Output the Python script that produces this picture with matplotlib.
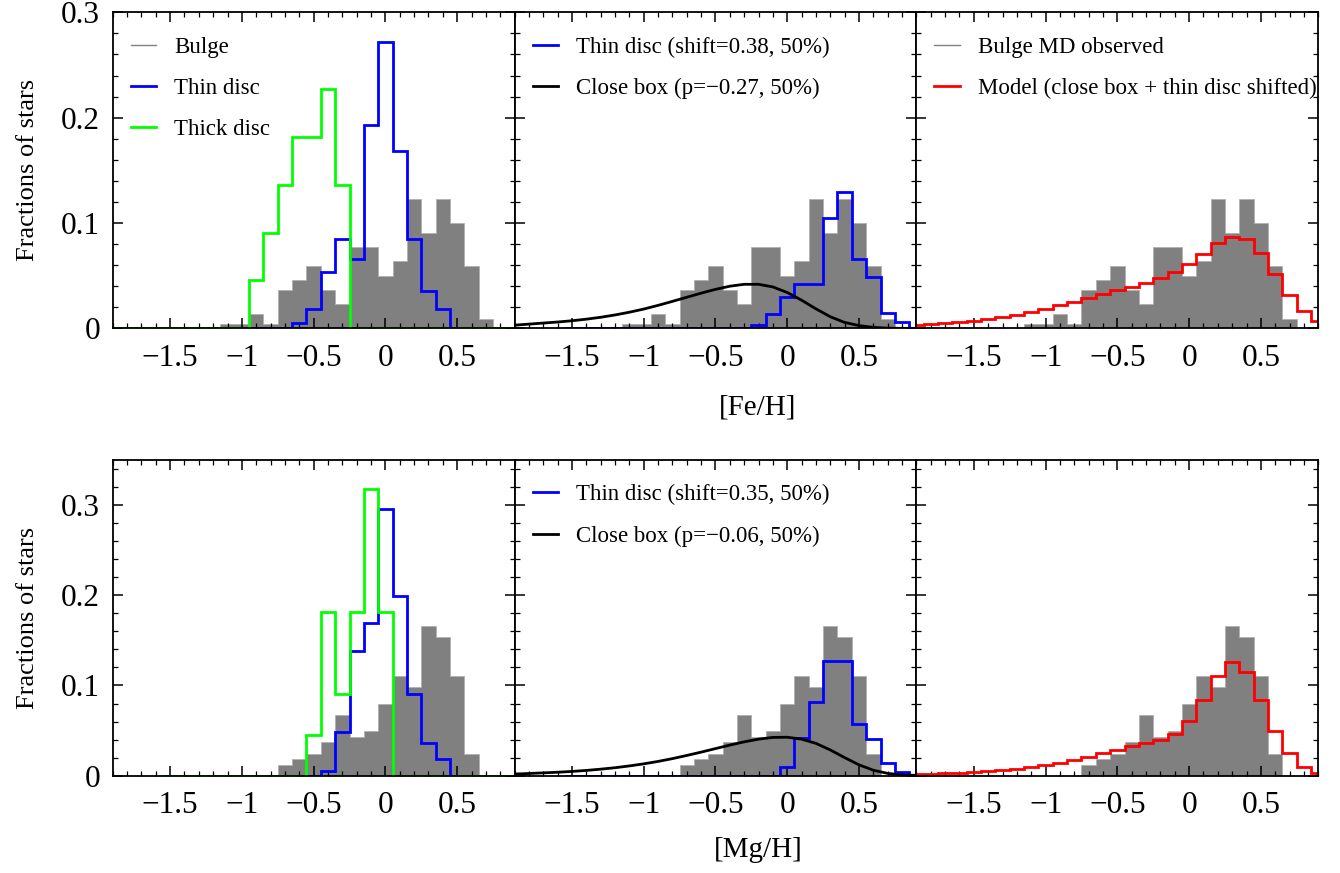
import numpy as np
import matplotlib
matplotlib.use("Agg")
import matplotlib.pyplot as plt
from matplotlib.lines import Line2D
from matplotlib.ticker import MultipleLocator

plt.rcParams['font.family'] = ['Liberation Serif', 'DejaVu Serif']

BIN = 0.1
x_ticks = [-1.5, -1, -0.5, 0, 0.5]
x_ticklabels = ['\u22121.5', '\u22121', '\u22120.5', '0', '0.5']
y_ticks = [0, 0.1, 0.2, 0.3]
y_ticklabels = ['0', '0.1', '0.2', '0.3']

# ---- [Fe/H] (top row), fractions per 0.1 dex bin, first bin edge given ----
bulge_fe_start = -1.15
bulge_fe = [0.0045, 0.0045, 0.0136, 0.0045, 0.0364, 0.0455, 0.0591, 0.0364, 0.0227, 0.0773,
            0.0773, 0.050, 0.0636, 0.1227, 0.0909, 0.1227, 0.100, 0.0591, 0.0091]
thin_fe_start = -0.95
thin_fe = [0, 0, 0, 0.0054, 0.018, 0.0538, 0.0845, 0.0658, 0.193, 0.2715, 0.168, 0.0845, 0.0354, 0.018]
thick_fe_start = -1.95
thick_fe = [0] * 10 + [0.0455, 0.0909, 0.1364, 0.1818, 0.1818, 0.2273, 0.1364] + [0] * 12
thin_fe_shift_start = -1.55
thin_fe_shift = [0] * 13 + [0.0032, 0.0133, 0.030, 0.042, 0.042, 0.105, 0.129, 0.066, 0.049, 0.0149, 0.0057]
model_fe_start = -1.95
model_fe = [0.0032, 0.0041, 0.0054, 0.0063, 0.0073, 0.0089, 0.0111, 0.0127, 0.0155, 0.0184,
            0.0222, 0.0253, 0.0291, 0.0326, 0.0364, 0.0396, 0.0427, 0.0475, 0.0532, 0.0608,
            0.0706, 0.0807, 0.087, 0.0848, 0.0712, 0.0513, 0.0316, 0.0168, 0.0073]
closebox_x = [-1.9, -1.8, -1.7, -1.6, -1.5, -1.4, -1.3, -1.2, -1.1, -1.0, -0.9, -0.8, -0.7, -0.6, -0.5,
              -0.4, -0.3, -0.2, -0.1, 0.0, 0.1, 0.2, 0.3, 0.4, 0.5, 0.6, 0.7, 0.8, 0.9]
closebox_fe_y = [0.0030, 0.0040, 0.0050, 0.0060, 0.0072, 0.0087, 0.0105, 0.0127, 0.0153, 0.0183,
                 0.0218, 0.0256, 0.0295, 0.0334, 0.0370, 0.0400, 0.0418, 0.0418, 0.0393, 0.0340,
                 0.0267, 0.0185, 0.0110, 0.0056, 0.0026, 0.0009, 0.0002, 0.0, 0.0]

# ---- [Mg/H] (bottom row) ----
bulge_mg_start = -0.75
bulge_mg = [0.0123, 0.0184, 0.0245, 0.0368, 0.0675, 0.0429, 0.0491, 0.0798, 0.1104, 0.0982,
            0.1656, 0.1534, 0.1104, 0.0245]
thin_mg_start = -0.55
thin_mg = [0, 0.0055, 0.0487, 0.1387, 0.1694, 0.2952, 0.1993, 0.0904, 0.0358, 0.0181]
thick_mg_start = -1.55
thick_mg = [0] * 10 + [0.0455, 0.1818, 0.0909, 0.1818, 0.3182, 0.1818] + [0] * 9
thin_mg_shift_start = -1.55
thin_mg_shift = [0] * 15 + [0.0095, 0.0415, 0.0812, 0.127, 0.127, 0.0572, 0.041, 0.0137, 0.0044]
model_mg_start = -1.95
model_mg = [0.0015, 0.0022, 0.003, 0.0033, 0.0044, 0.0052, 0.0063, 0.0077, 0.0096, 0.0122,
            0.0144, 0.0173, 0.021, 0.0247, 0.0284, 0.0328, 0.0358, 0.0395, 0.0461, 0.0605,
            0.0838, 0.1103, 0.1258, 0.1151, 0.0838, 0.0494, 0.0247, 0.0092, 0.0026]
closebox_mg_y = [0.0018, 0.0024, 0.0031, 0.0038, 0.0047, 0.0058, 0.0072, 0.0088, 0.0108, 0.0131,
                 0.0158, 0.0189, 0.0224, 0.0261, 0.0300, 0.0339, 0.0375, 0.0405, 0.0424, 0.0426,
                 0.0405, 0.0358, 0.0285, 0.0200, 0.0120, 0.0060, 0.0025, 0.0009, 0.0003]


def edges(start, vals):
    return np.round(start + BIN * np.arange(len(vals) + 1), 3)


def bulge(ax, start, vals):
    ax.stairs(vals, edges(start, vals), fill=True, facecolor='gray',
              edgecolor='#b0b0b0', linewidth=0.6, zorder=1)


def step(ax, start, vals, color):
    ax.stairs(vals, edges(start, vals), color=color, linewidth=2, zorder=3)


fig = plt.figure(figsize=(13.4, 8.73), dpi=100)
left, width = 0.0841, 0.2999
rows = [(0.6239, 0.3620, 0.3), (0.1115, 0.3616, 0.35)]
axes = []
for r, (bottom, height, ytop) in enumerate(rows):
    row = []
    for c in range(3):
        ax = fig.add_axes([left + c * width, bottom, width, height])
        ax.set_xlim(-1.9, 0.9)
        ax.set_ylim(0, ytop)
        ax.set_xticks(x_ticks)
        ax.set_xticklabels(x_ticklabels)
        ax.set_yticks(y_ticks)
        ax.set_yticklabels(y_ticklabels)
        ax.xaxis.set_minor_locator(MultipleLocator(0.1))
        ax.yaxis.set_minor_locator(MultipleLocator(0.02))
        ax.tick_params(which='both', direction='in', top=True, right=True, labelsize=22.5)
        ax.tick_params(which='major', length=7, width=1.1)
        ax.tick_params(which='minor', length=3.5, width=0.9)
        ax.tick_params(axis='x', which='major', pad=11)
        ax.tick_params(axis='y', which='major', pad=9)
        if c > 0:
            ax.tick_params(labelleft=False)
        for s in ax.spines.values():
            s.set_linewidth(1.3)
            s.set_zorder(5)
        row.append(ax)
    axes.append(row)

leg_kw = dict(loc='upper left', bbox_to_anchor=(0.022, 0.952), borderaxespad=0,
              frameon=False, fontsize=16.5, handlelength=1.1,
              handletextpad=0.8, labelspacing=0.88)

# top row
a1, a2, a3 = axes[0]
bulge(a1, bulge_fe_start, bulge_fe)
step(a1, thin_fe_start, thin_fe, 'blue')
step(a1, thick_fe_start, thick_fe, 'lime')
a1.legend([Line2D([], [], color='gray', lw=1), Line2D([], [], color='blue', lw=2),
           Line2D([], [], color='lime', lw=2)], ['Bulge', 'Thin disc', 'Thick disc'], **leg_kw)

bulge(a2, bulge_fe_start, bulge_fe)
step(a2, thin_fe_shift_start, thin_fe_shift, 'blue')
a2.plot(closebox_x, closebox_fe_y, color='black', lw=2, zorder=4)
a2.legend([Line2D([], [], color='blue', lw=2), Line2D([], [], color='black', lw=2)],
          ['Thin disc (shift=0.38, 50%)', 'Close box (p=\u22120.27, 50%)'], **leg_kw)

bulge(a3, bulge_fe_start, bulge_fe)
step(a3, model_fe_start, model_fe, 'red')
a3.legend([Line2D([], [], color='gray', lw=1), Line2D([], [], color='red', lw=2)],
          ['Bulge MD observed', 'Model (close box + thin disc shifted)'], **leg_kw)

# bottom row
b1, b2, b3 = axes[1]
bulge(b1, bulge_mg_start, bulge_mg)
step(b1, thin_mg_start, thin_mg, 'blue')
step(b1, thick_mg_start, thick_mg, 'lime')

bulge(b2, bulge_mg_start, bulge_mg)
step(b2, thin_mg_shift_start, thin_mg_shift, 'blue')
b2.plot(closebox_x, closebox_mg_y, color='black', lw=2, zorder=4)
b2.legend([Line2D([], [], color='blue', lw=2), Line2D([], [], color='black', lw=2)],
          ['Thin disc (shift=0.35, 50%)', 'Close box (p=\u22120.06, 50%)'], **leg_kw)

bulge(b3, bulge_mg_start, bulge_mg)
step(b3, model_mg_start, model_mg, 'red')

fig.text(0.5657, 0.533, '[Fe/H]', ha='center', va='center', fontsize=21)
fig.text(0.5657, 0.0263, '[Mg/H]', ha='center', va='center', fontsize=21)
fig.text(0.0209, 0.805, 'Fractions of stars', rotation=90, ha='center', va='center', fontsize=19)
fig.text(0.0209, 0.2922, 'Fractions of stars', rotation=90, ha='center', va='center', fontsize=19)

fig.savefig('out.png', dpi=100)
